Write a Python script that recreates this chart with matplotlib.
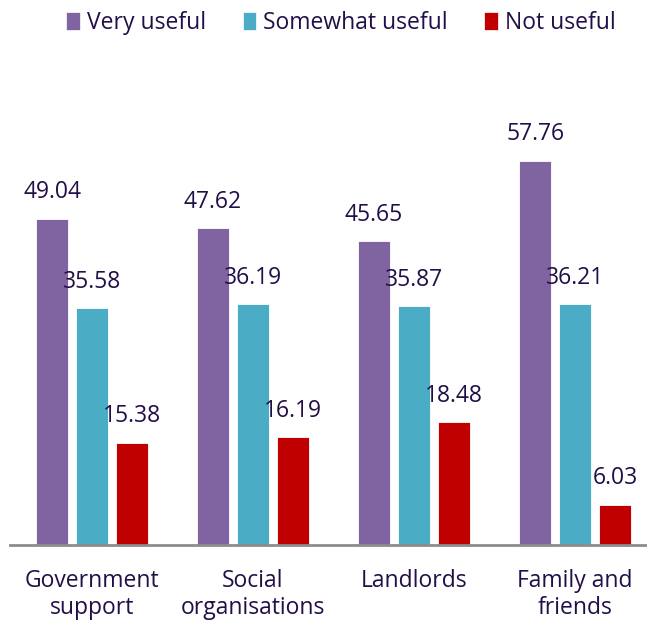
import matplotlib
matplotlib.use("Agg")
import matplotlib.pyplot as plt
import numpy as np
from matplotlib.patches import Patch

categories = ["Government\nsupport", "Social\norganisations", "Landlords", "Family and\nfriends"]
series_names = ["Very useful", "Somewhat useful", "Not useful"]
very_useful = [49.04, 47.62, 45.65, 57.76]
somewhat_useful = [35.58, 36.19, 35.87, 36.21]
not_useful = [15.38, 16.19, 18.48, 6.03]
colors = ["#8064A2", "#4BACC6", "#C00000"]
text_color = "#220F48"

plt.rcParams['font.family'] = ['Open Sans', 'DejaVu Sans']

W, H = 647, 621
fig = plt.figure(figsize=(W/100, H/100), dpi=100)
left_px, right_px = 10, 647
bottom_px, top_px = 545, 79.5
ax = fig.add_axes([left_px/W, 1-bottom_px/H, (right_px-left_px)/W, (bottom_px-top_px)/H])

x = np.arange(len(categories))
bw = 0.199
off = 0.248
for i, (vals, c) in enumerate(zip([very_useful, somewhat_useful, not_useful], colors)):
    pos = x + (i-1)*off
    ax.bar(pos, vals, width=bw, color=c, edgecolor='white', linewidth=0.6)
    for p, v in zip(pos, vals):
        ax.annotate(f"{v:.2f}", (p, v), xytext=(0, 10.5), textcoords='offset points',
                    ha='center', va='bottom', fontsize=16.5, color=text_color)

ax.set_xlim(-0.509, 3.447)
ax.set_ylim(0, 70)
for s in ['top', 'right', 'left']:
    ax.spines[s].set_visible(False)
ax.spines['bottom'].set_color('#8C8C8C')
ax.spines['bottom'].set_linewidth(2)
ax.set_yticks([])
ax.set_xticks(x)
ax.set_xticklabels(categories, fontsize=16.5, color=text_color, linespacing=1.2)
ax.tick_params(axis='x', length=0, pad=17)

handles = [Patch(facecolor=c, edgecolor='white', linewidth=0.5) for c in colors]
fig.legend(handles, series_names, loc='center', bbox_to_anchor=(341/W, 1-23/H), ncol=3,
           frameon=False, fontsize=16.5, labelcolor=text_color, handlelength=0.6,
           handleheight=0.8, handletextpad=0.3, columnspacing=1.6)

fig.savefig("out.png", dpi=100)
